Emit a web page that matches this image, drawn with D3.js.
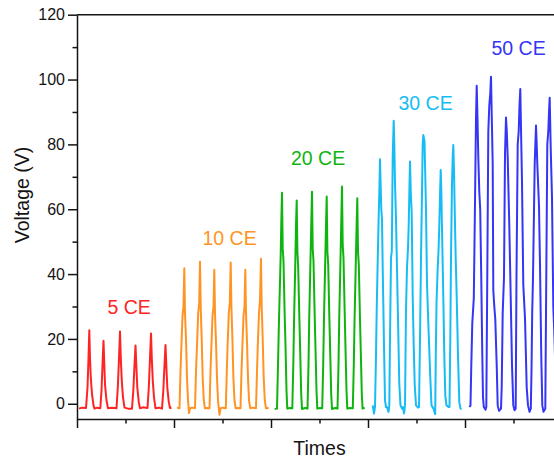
<!DOCTYPE html>
<html>
<head>
<meta charset="utf-8">
<script src="https://cdn.jsdelivr.net/npm/d3@7/dist/d3.min.js"></script>
<style>
  html, body { margin: 0; padding: 0; background: #fff; }
  svg { display: block; font-family: "Liberation Sans", Arial, sans-serif; }
</style>
</head>
<body>
<svg id="chart" width="554" height="461"></svg>
<script>
// Voltage pulses recorded for each number of contact events (CE); [time, volts]
const ce5 = [
  [2,-1.5],[5,-1.2],[9,-1.3],[10.5,5],[11.5,14],[12.3,22.7],[13,14],[13.8,8],[15,3],[16.5,-0.5],[17.5,-1.5],[20,-1.2],
  [23.3,-1.4],[24.5,4],[25.5,12],[26.5,19.4],[27.2,13],[28,6],[29.5,1],[31,-1.4],[35,-1.2],
  [39.5,-1.4],[40.8,5],[42,14],[43,22.3],[43.8,14],[44.8,7],[46,2],[47.5,-1.2],[51,-1.5],
  [55,-1.5],[56.3,4],[57.5,12],[58.5,18],[59.3,12],[60.3,5],[61.8,0.5],[63,-1.4],[66,-1.1],
  [70.5,-1.3],[71.8,5],[73,14],[74,21.7],[74.8,14],[75.8,7],[77,2],[78.5,-1.4],[82,-1.2],
  [85,-1.5],[86.3,4],[87.5,12],[88.5,18.1],[89.3,12],[90.3,5],[91.8,0.5],[93,-1.3],[94.5,-1.2]
];
const ce10 = [
  [100,-1.2],[102.5,-1.4],[103.5,10],[104.3,17],[105.5,27],[106.5,30],[107.3,41.8],[108,28],[109,20],[110,8],[111,1],[112,-2.9],[113,-1.4],[115.5,-1.2],
  [118,-1.4],[119,10],[120,18],[121.2,28],[122.2,31],[123,43.8],[123.7,30],[124.7,20],[125.7,8],[126.8,1],[128,-1.4],[130.5,-1.3],
  [132.5,-1.4],[133.5,10],[134.3,17],[135.5,27],[136.5,30],[137.3,41.3],[138,28],[139,19],[140,8],[141,1],[142.5,-3.4],[143.5,-1.4],[146,-1.2],
  [148.8,-1.4],[149.8,10],[150.6,18],[151.8,28],[152.8,31],[153.7,43.6],[154.4,30],[155.4,20],[156.4,8],[157.5,1],[158.7,-1.4],[161,-1.3],
  [163.5,-1.4],[164.5,10],[165.3,17],[166.5,27],[167.5,30],[168.3,41.3],[169,28],[170,19],[171,8],[172,1],[173.3,-1.4],[176,-1.2],
  [179,-1.4],[180,10],[180.8,18],[182,28],[183,32],[184,44.7],[184.7,30],[185.7,20],[186.7,8],[187.8,1],[189,-1.4],[191.7,-1.3]
];
const ce20 = [
  [197.7,-1.6],[200,-1.5],[201,12],[202,26],[203.7,46],[204.3,56],[205,65.1],[205.7,48],[206.5,44],[207.7,27],[208.5,18],[209.5,4],[210.3,-1.5],[213,-1.3],
  [215.3,-1.4],[216.3,12],[217,25],[218.4,45],[219,55],[219.7,62.7],[220.4,47],[221.2,42],[222.4,26],[223.2,16],[224.2,3],[225,-1.6],[228,-1.3],
  [230.5,-1.5],[231.5,12],[232.2,26],[233.6,46],[234.3,56],[235,65.4],[235.7,48],[236.5,44],[237.7,27],[238.5,17],[239.5,4],[240.3,-1.5],[243,-1.3],
  [245.2,-1.4],[246.2,12],[246.9,25],[248.3,45],[249,55],[249.7,63.9],[250.4,47],[251.2,43],[252.4,26],[253.2,16],[254.2,3],[255,-1.6],[258,-1.3],
  [260.5,-1.5],[261.5,12],[262.2,26],[263.6,46],[264.3,57],[265,67],[265.7,49],[266.5,45],[267.7,28],[268.5,17],[269.5,4],[270.3,-1.5],[273,-1.3],
  [275.8,-1.4],[276.8,12],[277.5,25],[278.9,45],[279.6,55],[280.3,63.4],[281,47],[281.8,43],[283,26],[283.8,16],[284.8,3],[285.6,-1.5],[287.7,-1.2]
];
const ce30 = [
  [295.7,-0.5],[297,-3],[298,-1],[299,15],[299.7,29],[300.7,44],[301.7,58],[302.4,66],[303,75.4],[303.6,68],[304.3,60],[305,57],[305.7,42],[307,18],[308,1],[309,-1],
  [310,-1],[311.5,-2.5],[312.3,-0.5],[313,20],[314,45],[314.8,47],[315.7,76],[316.7,87.3],[317.3,80],[318,68],[319,57],[320.7,31],[322.3,6],[323.5,-0.5],[325,-1.5],
  [326,-1],[327,-3],[328,-0.5],[329,29],[330,42],[331,48],[331.7,55],[332.4,66],[333,74.7],[333.8,65],[334.7,59],[335.7,33],[336.7,18],[337.7,6],[339,-0.5],[341,-1.2],
  [342,-1],[343,20],[344,45],[345,65],[345.7,80],[346.3,82.9],[347.5,81],[348.3,70],[349,60],[350,37],[351.3,25],[353.3,8],[354.5,-0.5],[356.5,-1.5],[358.2,-3.2],
  [358.8,15],[359.5,31],[360.7,42],[361.5,47],[362.3,55],[363,64],[363.7,72.1],[364.3,66],[365,54],[366.3,33],[367.3,15],[368.3,2.5],[369.5,-0.5],[371.5,-1],
  [372.5,-1],[373.3,20],[374,45],[375,68],[375.7,76],[376.3,79.8],[377,72],[377.7,60],[378.7,45],[379.7,33],[381,15],[382.3,0.5],[383.5,-1.5],[384.7,-1.5]
];
const ce50 = [
  [392.5,-1],[393.5,-0.5],[394.3,12],[395.3,25],[396.8,32.5],[398,62],[399,88],[399.7,98.1],[400.5,88],[401.3,76],[402.3,65.4],[403.2,60],[404.2,40],[405.3,15],[406,2],[406.8,-1],[408.5,-1.8],
  [409.3,-1],[410.3,40],[411.3,84],[412.3,92],[413.3,96],[414,100.9],[414.8,88],[415.7,74],[416.3,35],[417.3,30],[418.3,26],[419.7,12],[420.7,-0.5],[422,-2.2],[424,-1.5],
  [424.7,5],[425.7,28],[427,39],[428,77],[429,88.3],[429.8,84],[430.7,76],[432.3,55],[433.7,33],[435,12],[436.3,-0.5],[437.5,-2],[438.7,-1.5],
  [439.5,40],[440.7,80],[441.7,84],[442.5,92],[443.3,97.1],[444,85],[445,68.5],[446.3,36.6],[448,26.4],[449.7,5],[451,-0.5],[452.5,-2.5],[453.8,-1.5],
  [454.5,10],[455.2,28],[456,39],[457.7,74],[459,85.8],[459.7,80],[460.3,74],[462,61],[463,43],[464.3,14],[465.3,-0.5],[466.5,-2.5],[468.3,-1.5],
  [469.3,40],[470.3,80],[471.3,84],[472,90],[472.7,94.4],[473.7,79],[475,63.5],[476.3,30],[477.5,20],[479,3],[480,-1]
];

const seriesNames = ["5 CE", "10 CE", "20 CE", "30 CE", "50 CE"];
const seriesData = [ce5, ce10, ce20, ce30, ce50];
const seriesColors = ["#ff2424", "#ff9424", "#10b410", "#18bcf4", "#3535f5"];
// where each group's name sits, in data units [time, volts]
const labelAt = [[30.5, 27.7], [125.5, 49], [214, 73.7], [321.5, 90.6], [414.5, 107.6]];

const yMajor = [0, 20, 40, 60, 80, 100, 120];
const yMinor = [10, 30, 50, 70, 90, 110];
const xMajor = [0, 97, 194, 291, 388, 485];
const xMinor = [48.5, 145.5, 242.5, 339.5, 436.5];

const svg = d3.select("#chart");
const plotLeft = 77, plotRight = 562, plotTop = 14.7, plotBottom = 419;

const x = d3.scaleLinear().domain([0, 485]).range([plotLeft, plotRight]);
const y = d3.scaleLinear().domain([-4.7, 120]).range([plotBottom, plotTop]);

const ink = "#141414";
const font = "Liberation Sans, Arial, sans-serif";

// traces
const line = d3.line().x(d => x(d[0])).y(d => y(d[1]));
svg.append("g").selectAll("path")
  .data(seriesData)
  .join("path")
  .attr("d", line)
  .attr("fill", "none")
  .attr("stroke", (d, i) => seriesColors[i])
  .attr("stroke-width", 2)
  .attr("stroke-linejoin", "round");

// group names
svg.append("g").selectAll("text")
  .data(seriesNames)
  .join("text")
  .attr("x", (d, i) => x(labelAt[i][0]))
  .attr("y", (d, i) => y(labelAt[i][1]))
  .attr("fill", (d, i) => seriesColors[i])
  .attr("font-family", font)
  .attr("font-size", 19.5)
  .text(d => d);

// frame
const frame = svg.append("g").attr("stroke", ink).attr("stroke-width", 1.5).attr("fill", "none");
frame.append("line").attr("x1", plotLeft).attr("x2", plotRight).attr("y1", plotTop).attr("y2", plotTop);
frame.append("line").attr("x1", plotRight).attr("x2", plotRight).attr("y1", plotTop).attr("y2", plotBottom);

function styleAxis(g) {
  g.selectAll("line").attr("stroke", ink).attr("stroke-width", 1.5);
  g.selectAll("path.domain").attr("stroke", ink).attr("stroke-width", 1.5);
  g.selectAll("text").attr("fill", ink).attr("font-family", font).attr("font-size", 16);
}

// y axis
svg.append("g").attr("transform", `translate(${plotLeft},0)`)
  .call(d3.axisLeft(y).tickValues(yMinor).tickSize(4.5).tickFormat(""))
  .call(g => g.select(".domain").remove())
  .call(styleAxis);
svg.append("g").attr("transform", `translate(${plotLeft},0)`)
  .call(d3.axisLeft(y).tickValues(yMajor).tickSize(9).tickSizeOuter(0).tickPadding(3).tickFormat(d3.format("d")))
  .call(styleAxis);

// x axis (no tick labels)
svg.append("g").attr("transform", `translate(0,${plotBottom})`)
  .call(d3.axisBottom(x).tickValues(xMinor).tickSize(4.5).tickFormat(""))
  .call(g => g.select(".domain").remove())
  .call(styleAxis);
svg.append("g").attr("transform", `translate(0,${plotBottom})`)
  .call(d3.axisBottom(x).tickValues(xMajor).tickSize(9).tickSizeOuter(0).tickFormat(""))
  .call(styleAxis);

// axis titles
svg.append("text")
  .attr("x", 319.5).attr("y", 455)
  .attr("text-anchor", "middle")
  .attr("fill", ink).attr("font-family", font).attr("font-size", 19.5)
  .text("Times");
svg.append("text")
  .attr("transform", "translate(29,195) rotate(-90)")
  .attr("text-anchor", "middle")
  .attr("fill", ink).attr("font-family", font).attr("font-size", 19.5)
  .text("Voltage (V)");
</script>
</body>
</html>
